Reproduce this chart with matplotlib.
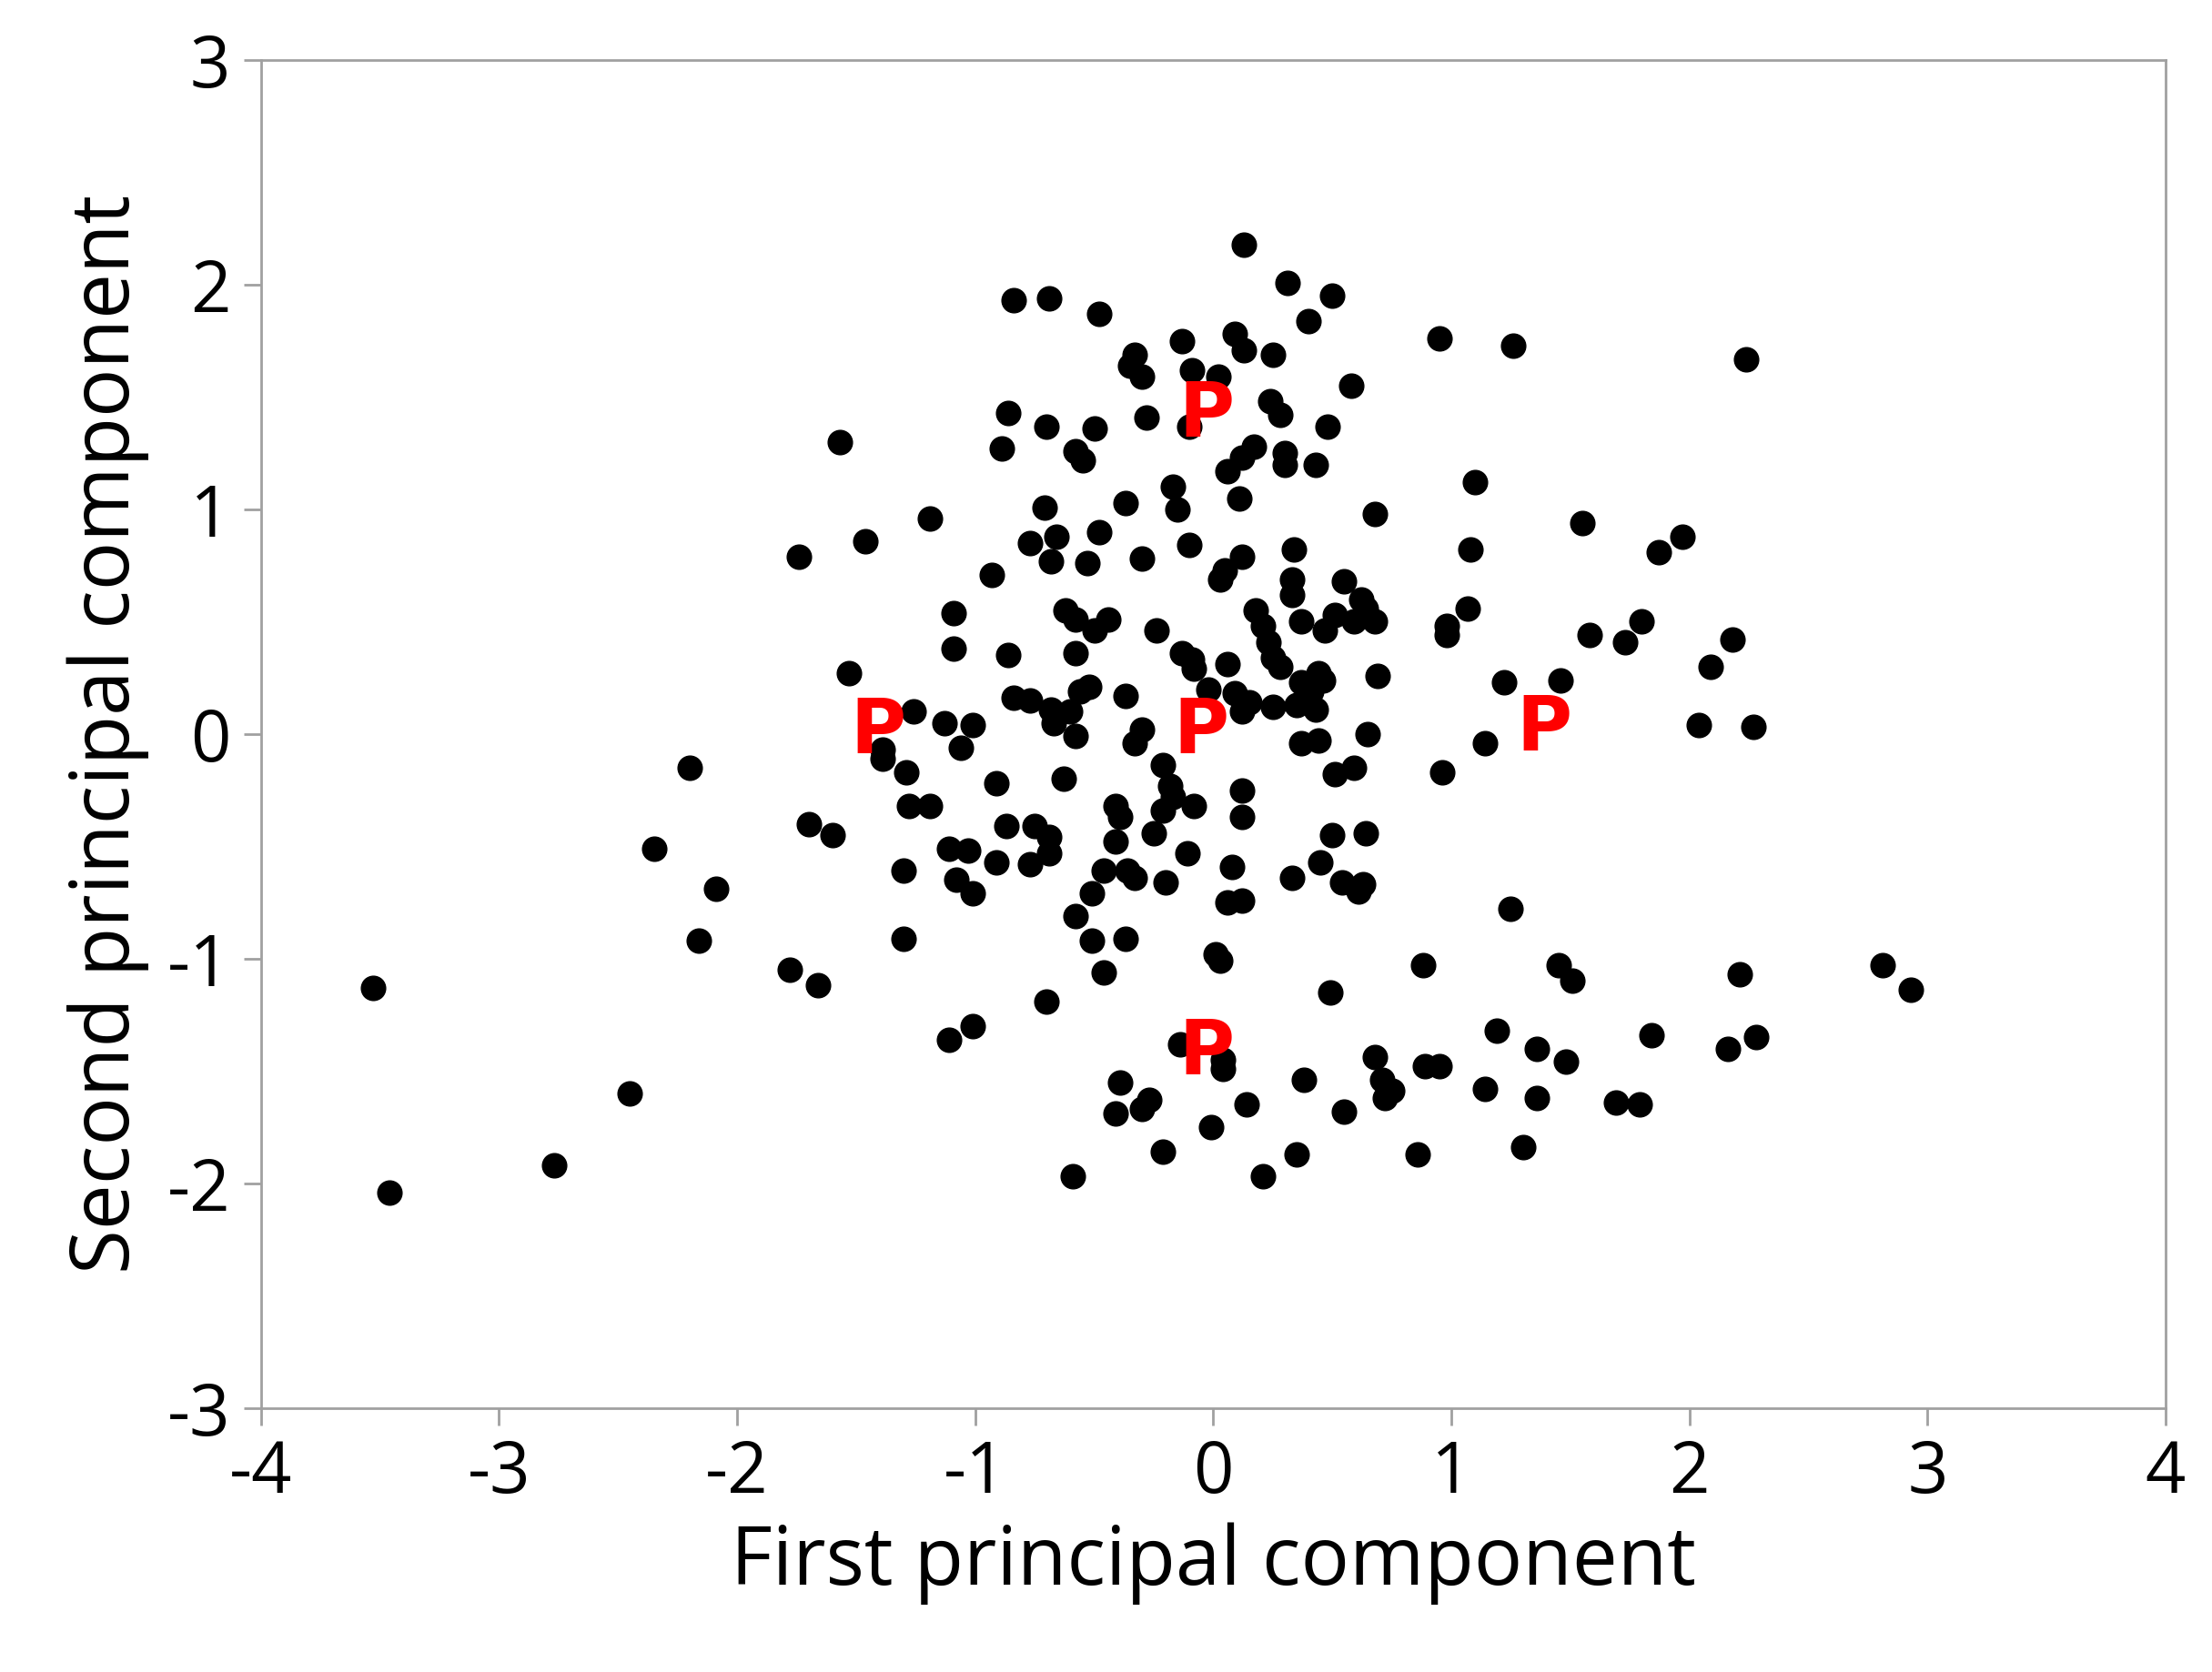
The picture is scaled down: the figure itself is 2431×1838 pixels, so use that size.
import matplotlib
matplotlib.use("Agg")
import matplotlib.pyplot as plt

plt.rcParams['font.family'] = ['Open Sans', 'DejaVu Sans']
plt.rcParams['axes.unicode_minus'] = False

pc1 = [0.13, 0.31, 0.50, -0.84, -0.69, -0.48, 0.95, 1.26, 2.24, 0.40, 0.09, -0.13, 0.13, 0.25,
       -0.33, -0.35, -0.30, -0.09, 0.02, 0.58, 0.24, 0.28, 0.48, -0.28, -0.86, -0.70, -0.50,
       -0.89, -0.58, -0.55, -1.57, 0.17, 0.12, 0.30, 0.30, 0.43, 0.06, -0.10, 1.10, -0.17, 0.11,
       -0.37, -0.15, -0.71, 0.68, -1.19, 1.55, -0.66, -0.48, -1.46, -0.77, -0.10, 0.34, 1.08,
       1.97, 1.87, -1.74, -0.30, -0.68, 0.12, 0.05, 0.03, -0.53, -0.93, 0.33, 0.55, 0.33, 0.62,
       0.64, 1.07, -0.62, 0.18, -1.09, 0.51, 0.59, 0.68, -0.44, -0.58, 0.37, 0.21, 1.80, 0.98,
       0.98, 1.58, 0.47, -0.24, -0.50, 2.18, 1.73, 0.23, -1.09, 0.25, -0.58, -0.13, -0.09, 0.06,
       0.28, 2.09, -0.08, -1.53, -0.86, 0.44, 0.46, 0.37, 0.69, 1.46, 1.22, -0.56, -0.02, 0.41,
       -0.52, -0.84, -0.77, -0.37, 0.09, 0.15, 0.35, 0.25, -1.26, -0.68, -0.60, 0.12, 0.43, 2.04,
       2.27, -1.13, -1.01, -0.67, -0.30, 0.65, -0.58, -0.33, 0.37, 0.44, 1.14, -1.06, -1.39,
       -1.39, -0.21, -2.20, 0.59, 0.51, 0.96, -1.29, -0.63, -0.91, -0.18, 0.12, -0.17, -1.19,
       -0.08, -1.28, -0.41, -0.21, 0.12, -0.39, -1.70, -0.75, -0.87, -0.25, 0.64, -1.60, -0.69,
       -0.41, 0.50, -2.35, -1.11, -1.03, -0.69, -0.11, 0.45, -0.91, -0.77, 0.08, -1.30, -0.46,
       -0.36, -0.33, 0.33, -1.08, -0.20, 0.54, -2.09, 0.63, 0.61, -1.01, -0.51, 0.12, 0.06, 1.25,
       -0.58, -1.30, -0.51, -0.37, -2.16, 0.01, 0.03, -1.78, 1.45, 2.81, -0.46, 0.88, 2.21, 1.51,
       -1.66, -3.53, 2.93, 0.49, -0.70, -1.01, -1.11, 1.19, 1.84, 2.28, 2.16, -0.14, 1.36, 0.68,
       0.04, 1.48, 0.95, 0.89, 0.04, -0.39, 0.38, 0.71, 0.75, 1.14, -2.45, 1.36, 0.72, -0.27,
       1.69, 1.79, 0.14, -0.30, 0.55, -0.41, -0.01, -0.21, 0.35, 0.86, 1.30, -2.77, -0.59, 0.21,
       -3.46]
pc2 = [2.18, 2.01, 1.95, 1.93, 1.94, 1.87, 1.76, 1.73, 1.67, 1.84, 1.78, 1.75, 1.71, 1.69,
       1.69, 1.64, 1.59, 1.62, 1.59, 1.55, 1.48, 1.42, 1.37, 1.41, 1.43, 1.37, 1.36,
       1.27, 1.26, 1.22, 1.30, 1.28, 1.23, 1.25, 1.20, 1.20, 1.17, 1.37, 1.12, 1.10, 1.05,
       1.03, 1.00, 1.01, 0.98, 0.96, 0.94, 0.88, 0.90, 0.86, 0.85, 0.84, 0.82, 0.82,
       0.88, 0.81, 0.79, 0.78, 0.77, 0.79, 0.73, 0.69, 0.76, 0.71, 0.69, 0.68, 0.62, 0.60,
       0.56, 0.56, 0.55, 0.55, 0.54, 0.53, 0.50, 0.50, 0.51, 0.51, 0.50, 0.48, 0.50, 0.48,
       0.44, 0.44, 0.46, 0.46, 0.46, 0.42, 0.41, 0.41, 0.38, 0.34, 0.36, 0.36, 0.33, 0.31,
       0.30, 0.30, 0.29, 0.27, 0.35, 0.27, 0.24, 0.23, 0.26, 0.24, 0.23, 0.19, 0.20, 0.19,
       0.21, 0.16, 0.15, 0.17, 0.18, 0.14, 0.13, 0.12, 0.10, 0.11, 0.10, 0.10, 0.11, 0.04,
       0.03, 0.05, 0.04, 0.05, 0.02, 0.00, -0.01, -0.04, -0.04, -0.03, -0.04, -0.06, -0.11,
       -0.07, -0.14, -0.15, -0.15, -0.18, -0.17, -0.17, -0.20, -0.22, -0.23, -0.25, -0.28, -0.32,
       -0.32, -0.32, -0.32, -0.34, -0.37, -0.37, -0.40, -0.41, -0.41, -0.44, -0.44, -0.45, -0.46,
       -0.48, -0.45, -0.51, -0.51, -0.52, -0.53, -0.53, -0.57, -0.57, -0.58, -0.59, -0.61, -0.61,
       -0.61, -0.64, -0.64, -0.65, -0.66, -0.66, -0.69, -0.67, -0.70, -0.71, -0.71, -0.74, -0.75, -0.78,
       -0.81, -0.91, -0.92, -0.91, -0.92, -0.98, -1.01, -1.05, -1.03, -1.03, -1.06, -1.03, -1.07, -1.10,
       -1.12, -1.13, -1.14, -1.15, -1.19, -1.30, -1.36, -1.32, -1.34, -1.35, -1.40, -1.38, -1.40, -1.44,
       -1.45, -1.46, -1.48, -1.48, -1.49, -1.55, -1.54, -1.54, -1.59, -1.58, -1.60, -1.62, -1.62, -1.63,
       -1.64, -1.65, -1.65, -1.67, -1.68, -1.69, -1.75, -1.86, -1.87, -1.87, -1.84, -1.92, -1.97, -1.97,
       -2.04]

# the five "P" labels
p_x = [-0.03, -1.41, -0.05, 1.39, -0.03]
p_y = [1.42, 0.01, 0.01, 0.02, -1.42]

fig = plt.figure(figsize=(24.31, 18.38), dpi=100)
ax = fig.add_axes([0.118, 0.158, 0.861, 0.806])

n = min(len(pc1), len(pc2))
ax.scatter(pc1[:n], pc2[:n], s=370, color='black', zorder=2)
for x, y in zip(p_x, p_y):
    ax.text(x, y, 'P', color='red', fontsize=60, fontweight='bold',
            ha='center', va='center', zorder=3, family=['DejaVu Sans'])

ax.set_xlim(-4, 4)
ax.set_ylim(-3, 3)
ax.set_xticks(range(-4, 5))
ax.set_yticks(range(-3, 4))
for s in ax.spines.values():
    s.set_color('#a0a0a0')
    s.set_linewidth(2)
ax.tick_params(direction='out', length=14, width=2, color='#a0a0a0', labelsize=56, pad=10)
ax.set_xlabel('First principal component', fontsize=64, labelpad=10)
ax.set_ylabel('Second principal component', fontsize=64, labelpad=14)

fig.savefig('out.png', dpi=100)
